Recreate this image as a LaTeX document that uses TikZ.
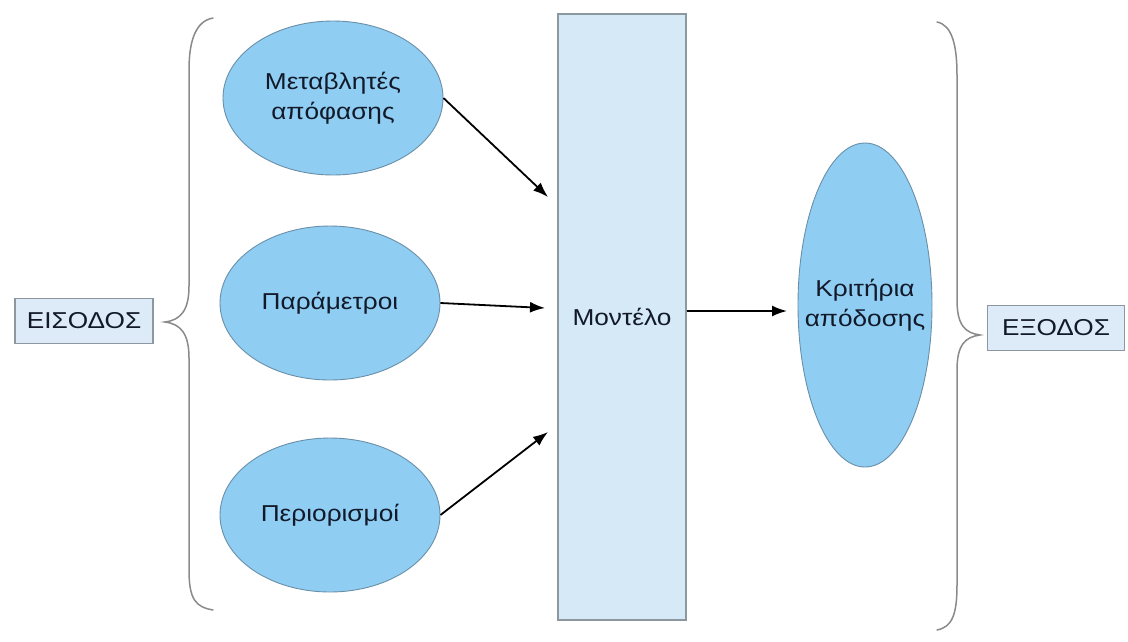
\documentclass[tikz,border=0pt]{standalone}
\usepackage{fontspec}
\setmainfont{Liberation Sans}[FakeStretch=1.14]
\usetikzlibrary{arrows.meta,shapes.geometric}

\definecolor{ovalfill}{HTML}{8FCDF3}
\definecolor{ovaledge}{HTML}{6A8FA8}
\definecolor{panelfill}{HTML}{D6E9F6}
\definecolor{paneledge}{HTML}{8C979F}
\definecolor{tagfill}{HTML}{DCEBF7}
\definecolor{inktext}{HTML}{121A2A}
\definecolor{bracegray}{HTML}{8A8A8A}

\tikzset{
  oval/.style={ellipse, draw=ovaledge, fill=ovalfill, line width=0.9pt,
    minimum width=220pt, minimum height=154pt, inner sep=0pt,
    inner xsep=-20pt,
    align=center, text=inktext, font=\fontsize{23}{30}\selectfont},
  tallova/.style={oval, minimum width=134pt, minimum height=324pt},
  panel/.style={rectangle, draw=paneledge, fill=panelfill, line width=1.2pt,
    minimum width=128pt, minimum height=606pt, inner sep=0pt,
    text=inktext, font=\fontsize{23}{30}\selectfont},
  tag/.style={rectangle, draw=paneledge, fill=tagfill, line width=1.2pt,
    minimum height=45pt, inner sep=0pt,
    text=inktext, font=\fontsize{23}{30}\selectfont},
  flow/.style={line width=1.8pt, draw=black,
    -{Latex[length=15pt,width=11pt]}},
  curly/.style={draw=bracegray, line width=1.5pt, line cap=round}
}

\begin{document}
\begin{tikzpicture}[x=1pt,y=-1pt]
  \useasboundingbox (0,0) rectangle (1128,641);

  % input side
  \node[tag, minimum width=138pt] (inp) at (84,321) {ΕΙΣΟΔΟΣ};
  \node[oval] (dec) at (333,98) {Μεταβλητές\\απόφασης};
  \node[oval] (par) at (330,303) {Παράμετροι};
  \node[oval] (lim) at (330,515) {Περιορισμοί};

  % model and output side
  \node[panel] (model) at (622,317) {Μοντέλο};
  \node[tallova] (crit) at (865,305) {Κριτήρια\\απόδοσης};
  \node[tag, minimum width=137pt] (out) at (1056,328) {ΕΞΟΔΟΣ};

  % arrow targets just short of the model panel and the criteria oval
  \coordinate (t1) at (548,197);
  \coordinate (t2) at (545,308);
  \coordinate (t3) at (548,432);
  \coordinate (t4) at (787,311);

  \draw[flow] (dec.east) -- (t1);
  \draw[flow] (par.east) -- (t2);
  \draw[flow] (lim.east) -- (t3);
  \draw[flow] (model.east |- t4) -- (t4);

  % grouping braces
  \draw[curly] (213,18) .. controls (196,21) and (189,40) .. (189,70)
    -- (189,286) .. controls (189,310) and (181,320) .. (165,322)
    .. controls (181,324) and (189,334) .. (189,358)
    -- (189,570) .. controls (189,600) and (196,607) .. (213,610);
  \draw[curly] (937,22) .. controls (952,25) and (957,45) .. (957,75)
    -- (957,300) .. controls (957,325) and (965,333) .. (980,335)
    .. controls (965,337) and (957,345) .. (957,370)
    -- (957,585) .. controls (957,615) and (952,627) .. (937,630);
\end{tikzpicture}
\end{document}
